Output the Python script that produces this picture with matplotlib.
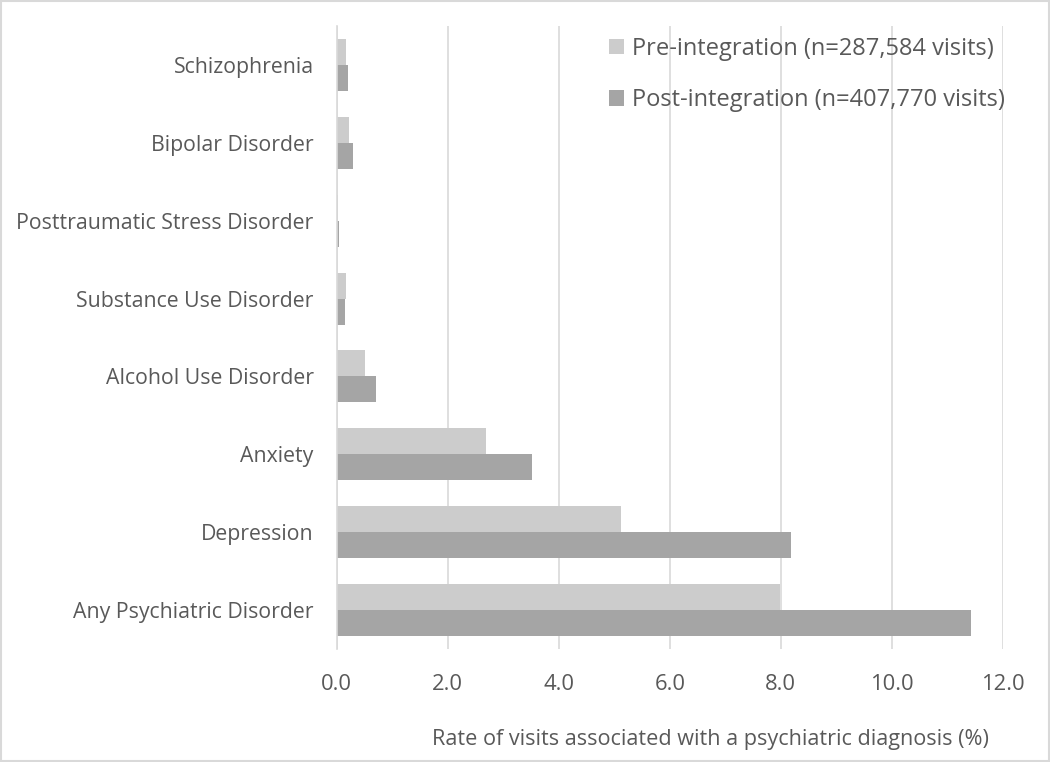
import matplotlib
matplotlib.use("Agg")
import matplotlib.pyplot as plt
import numpy as np
from matplotlib.patches import Rectangle

plt.rcParams['font.family'] = ['Open Sans', 'DejaVu Sans']

categories = ["Any Psychiatric Disorder", "Depression", "Anxiety", "Alcohol Use Disorder",
              "Substance Use Disorder", "Posttraumatic Stress Disorder", "Bipolar Disorder",
              "Schizophrenia"]
pre_values = [7.98, 5.12, 2.70, 0.52, 0.18, 0.02, 0.23, 0.17]
post_values = [11.42, 8.18, 3.52, 0.72, 0.16, 0.05, 0.30, 0.21]
series_labels = ["Pre-integration (n=287,584 visits)", "Post-integration (n=407,770 visits)"]
xticks = [0, 2, 4, 6, 8, 10, 12]
xlabel = "Rate of visits associated with a psychiatric diagnosis (%)"

text_color = "#595959"
pre_color = "#CCCCCC"
post_color = "#A5A5A5"

fig = plt.figure(figsize=(10.5, 7.62), dpi=100)
ax = fig.add_axes([336.5/1050, 1-649/762, (1003-336.5)/1050, (649-26)/762])

y = np.arange(len(categories))
h = 1/3
ax.barh(y + h/2, pre_values, height=h, color=pre_color, label=series_labels[0], zorder=3)
ax.barh(y - h/2, post_values, height=h, color=post_color, label=series_labels[1], zorder=3)

ax.set_xlim(0, 12)
ax.set_ylim(-0.5, len(categories) - 0.5)
ax.set_xticks(xticks)
ax.set_xticklabels([f"{v:.1f}" for v in xticks])
ax.set_yticks(y)
ax.set_yticklabels(categories)
ax.tick_params(axis='both', length=0, colors=text_color)
ax.tick_params(axis='y', labelsize=15.3, pad=16.5)
ax.tick_params(axis='x', labelsize=15.8, pad=18)
ax.grid(axis='x', color="#D9D9D9", linewidth=1.2, zorder=0)
for s in ["top", "right", "bottom"]:
    ax.spines[s].set_visible(False)
ax.spines["left"].set_color("#D9D9D9")
ax.spines["left"].set_linewidth(1.2)
ax.spines["left"].set_zorder(4)

ax.set_xlabel(xlabel, fontsize=15.6, color=text_color)
ax.xaxis.set_label_coords((710-336.5)/(1003-336.5), -(729-649)/(649-26), transform=ax.transAxes)

leg = ax.legend(loc="upper right", bbox_to_anchor=(1005/1050, 1-37/762), bbox_transform=fig.transFigure,
                frameon=False, fontsize=17, labelcolor=text_color, handlelength=0.62,
                handleheight=0.62, handletextpad=0.36, labelspacing=1.16, borderpad=0, borderaxespad=0)

fig.patches.append(Rectangle((0.001, 0.001), 0.998, 0.998, transform=fig.transFigure,
                             fill=False, edgecolor="#D9D9D9", linewidth=1.5))

fig.savefig("out.png", dpi=100)
